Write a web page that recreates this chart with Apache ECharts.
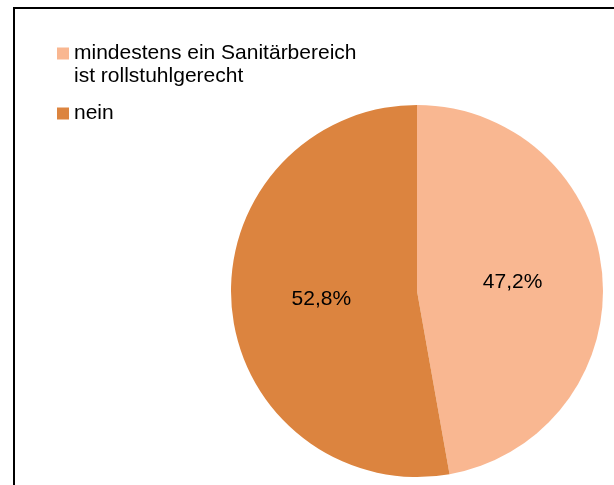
<!DOCTYPE html>
<html>
<head>
<meta charset="utf-8">
<script src="https://cdn.jsdelivr.net/npm/echarts@6/dist/echarts.min.js"></script>
<style>
html,body{margin:0;padding:0;background:#fff;}
#c{width:614px;height:485px;}
</style>
</head>
<body>
<div id="c"></div>
<script>
var categories = ['mindestens ein Sanitärbereich\nist rollstuhlgerecht', 'nein'];
var values = [47.2, 52.8];
var colors = ['#F9B791', '#DC843F'];

var chart = echarts.init(document.getElementById('c'), null, {renderer: 'canvas'});
var font = 'Liberation Sans, Arial, sans-serif';
var data = categories.map(function (c, i) {
  return {name: c, value: values[i], itemStyle: {color: colors[i]}};
});
chart.setOption({
  animation: false,
  backgroundColor: '#fff',
  graphic: [{
    type: 'rect',
    shape: {x: 14, y: 8, width: 700, height: 600},
    style: {fill: 'none', stroke: '#000', lineWidth: 2},
    silent: true,
    z: 0
  }],
  legend: [{
    data: [categories[0]],
    orient: 'vertical',
    left: 57,
    top: 19,
    padding: 0,
    icon: 'rect',
    itemWidth: 12,
    itemHeight: 12,
    itemGap: 0,
    formatter: function (name) { return ' \n' + name; },
    textStyle: {fontFamily: font, fontSize: 21, lineHeight: 23, color: '#000'}
  }, {
    data: [categories[1]],
    orient: 'vertical',
    left: 57,
    top: 102,
    padding: 0,
    icon: 'rect',
    itemWidth: 12,
    itemHeight: 12,
    itemGap: 0,
    textStyle: {fontFamily: font, fontSize: 21, lineHeight: 23, color: '#000'}
  }],
  series: [{
    type: 'pie',
    center: [417, 291],
    radius: [0, 186],
    startAngle: 90,
    clockwise: true,
    data: data,
    label: {
      show: true,
      position: 'inside',
      fontFamily: font,
      fontSize: 21,
      color: '#000',
      formatter: function (p) { return p.value.toFixed(1).replace('.', ',') + '%'; }
    },
    labelLine: {show: false},
    itemStyle: {borderWidth: 0},
    emphasis: {disabled: true}
  }]
});
</script>
</body>
</html>
